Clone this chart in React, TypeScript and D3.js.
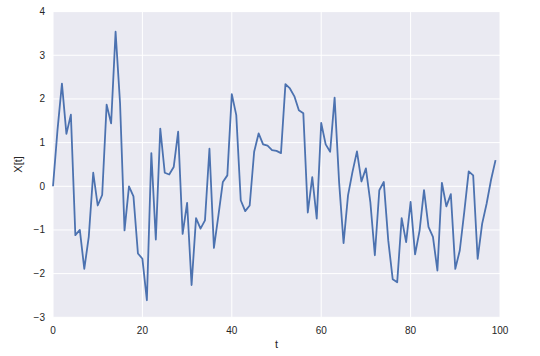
import React from 'react';
import * as d3 from 'd3';

// X[t] values, t = 0..99
const values: number[] = [
  0.0, 1.28, 2.35, 1.2, 1.64, -1.12, -1.0, -1.89, -1.16, 0.31,
  -0.44, -0.2, 1.87, 1.44, 3.54, 1.9, -1.01, 0.0, -0.23, -1.54,
  -1.66, -2.61, 0.76, -1.22, 1.32, 0.31, 0.27, 0.44, 1.25, -1.09,
  -0.38, -2.26, -0.73, -0.97, -0.78, 0.86, -1.41, -0.67, 0.1, 0.25,
  2.11, 1.63, -0.32, -0.57, -0.44, 0.79, 1.21, 0.96, 0.93, 0.83,
  0.81, 0.76, 2.34, 2.24, 2.06, 1.74, 1.67, -0.6, 0.21, -0.74,
  1.45, 0.96, 0.79, 2.03, 0.1, -1.3, -0.21, 0.33, 0.8, 0.11,
  0.41, -0.37, -1.58, -0.09, 0.1, -1.24, -2.13, -2.2, -0.73, -1.28,
  -0.36, -1.56, -1.02, -0.09, -0.93, -1.16, -1.93, 0.08, -0.46, -0.18,
  -1.89, -1.47, -0.59, 0.34, 0.25, -1.66, -0.86, -0.4, 0.15, 0.6,
];
const xTicks = [0, 20, 40, 60, 80, 100];
const yTicks = [-3, -2, -1, 0, 1, 2, 3, 4];

const width = 540;
const height = 356;
const margin = { top: 11.6, right: 40, bottom: 38.7, left: 53 };

const App: React.FC = () => {
  const x = d3.scaleLinear().domain([0, 100]).range([margin.left, width - margin.right]);
  const y = d3.scaleLinear().domain([-3, 4]).range([height - margin.bottom, margin.top]);

  const line = d3
    .line<number>()
    .x((_, i) => x(i))
    .y((d) => y(d));

  const font = '"Liberation Sans", Arial, sans-serif';
  const fmt = (v: number) => (v < 0 ? '\u2212' + Math.abs(v) : String(v));

  return (
    <svg
      width={width}
      height={height}
      style={{ position: 'absolute', left: 0, top: 0, background: '#fff' }}
      fontFamily={font}
    >
      <rect
        x={margin.left}
        y={margin.top}
        width={width - margin.left - margin.right}
        height={height - margin.top - margin.bottom}
        fill="#EAEAF2"
      />
      {xTicks.map((t) => (
        <line key={'gx' + t} x1={x(t)} x2={x(t)} y1={margin.top} y2={height - margin.bottom} stroke="#fff" strokeWidth={1} />
      ))}
      {yTicks.map((t) => (
        <line key={'gy' + t} x1={margin.left} x2={width - margin.right} y1={y(t)} y2={y(t)} stroke="#fff" strokeWidth={1} />
      ))}
      <path d={line(values) || ''} fill="none" stroke="#4C72B0" strokeWidth={1.8} strokeLinejoin="round" />
      {xTicks.map((t) => (
        <text key={'tx' + t} x={x(t)} y={height - margin.bottom + 17} textAnchor="middle" fontSize={10} fill="#262626">
          {t}
        </text>
      ))}
      {yTicks.map((t) => (
        <text key={'ty' + t} x={margin.left - 8} y={y(t)} dy="0.35em" textAnchor="end" fontSize={10} fill="#262626">
          {fmt(t)}
        </text>
      ))}
      <text x={(margin.left + width - margin.right) / 2} y={height - 8} textAnchor="middle" fontSize={11} fill="#262626">
        t
      </text>
      <text
        transform={`translate(${22},${(margin.top + height - margin.bottom) / 2}) rotate(-90)`}
        textAnchor="middle"
        fontSize={11}
        fill="#262626"
      >
        X[t]
      </text>
    </svg>
  );
};

export default App;
